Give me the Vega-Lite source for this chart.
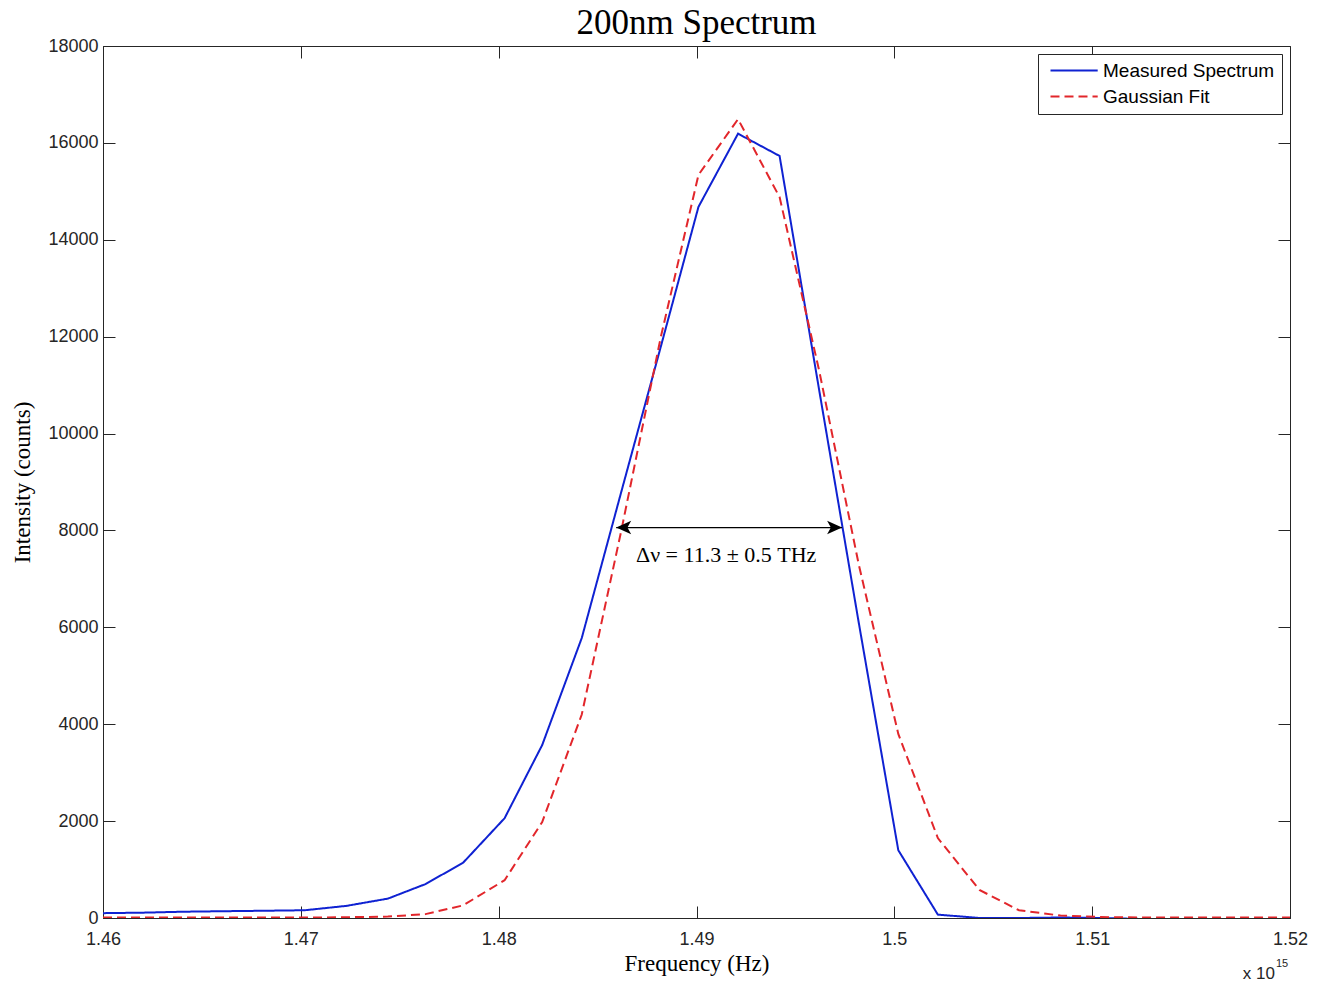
{
  "$schema": "https://vega.github.io/schema/vega-lite/v6.json",
  "width": 1187,
  "height": 872,
  "autosize": {"type": "none"},
  "padding": {"left": 103, "top": 46, "right": 36, "bottom": 65},
  "background": "white",
  "title": {
    "text": "200nm Spectrum",
    "font": "Liberation Serif",
    "fontSize": 35,
    "fontWeight": "normal",
    "color": "#000000",
    "anchor": "middle",
    "offset": -4
  },
  "config": {
    "view": {"stroke": "#262626", "strokeWidth": 1},
    "axis": {
      "labelFont": "Liberation Sans",
      "labelFontSize": 18,
      "labelColor": "#262626",
      "titleFont": "Liberation Serif",
      "titleFontSize": 23,
      "titleFontWeight": "normal",
      "titleColor": "#000000",
      "domainColor": "#262626",
      "tickColor": "#262626",
      "grid": false,
      "tickSize": -12
    }
  },
  "datasets": {
    "spectrum": [
      {"f": 1.4600, "series": "Measured Spectrum", "v": 100},
      {"f": 1.4620, "series": "Measured Spectrum", "v": 110},
      {"f": 1.4641, "series": "Measured Spectrum", "v": 130},
      {"f": 1.4661, "series": "Measured Spectrum", "v": 140},
      {"f": 1.4682, "series": "Measured Spectrum", "v": 150},
      {"f": 1.4702, "series": "Measured Spectrum", "v": 160},
      {"f": 1.4723, "series": "Measured Spectrum", "v": 250},
      {"f": 1.4744, "series": "Measured Spectrum", "v": 400},
      {"f": 1.4763, "series": "Measured Spectrum", "v": 700},
      {"f": 1.4782, "series": "Measured Spectrum", "v": 1140},
      {"f": 1.4803, "series": "Measured Spectrum", "v": 2060},
      {"f": 1.4822, "series": "Measured Spectrum", "v": 3570},
      {"f": 1.4842, "series": "Measured Spectrum", "v": 5780},
      {"f": 1.4862, "series": "Measured Spectrum", "v": 8800},
      {"f": 1.4882, "series": "Measured Spectrum", "v": 11800},
      {"f": 1.4901, "series": "Measured Spectrum", "v": 14680},
      {"f": 1.4921, "series": "Measured Spectrum", "v": 16190},
      {"f": 1.4942, "series": "Measured Spectrum", "v": 15730},
      {"f": 1.4962, "series": "Measured Spectrum", "v": 10900},
      {"f": 1.4982, "series": "Measured Spectrum", "v": 6100},
      {"f": 1.5002, "series": "Measured Spectrum", "v": 1400},
      {"f": 1.5022, "series": "Measured Spectrum", "v": 70},
      {"f": 1.5043, "series": "Measured Spectrum", "v": 0},
      {"f": 1.5063, "series": "Measured Spectrum", "v": 0},
      {"f": 1.5084, "series": "Measured Spectrum", "v": 10},
      {"f": 1.5104, "series": "Measured Spectrum", "v": 0},
      {"f": 1.5125, "series": "Measured Spectrum", "v": -20},
      {"f": 1.5145, "series": "Measured Spectrum", "v": -60},
      {"f": 1.5166, "series": "Measured Spectrum", "v": -70},
      {"f": 1.5186, "series": "Measured Spectrum", "v": -50},
      {"f": 1.5200, "series": "Measured Spectrum", "v": -40},
      {"f": 1.4600, "series": "Gaussian Fit", "v": 10},
      {"f": 1.4620, "series": "Gaussian Fit", "v": 10},
      {"f": 1.4641, "series": "Gaussian Fit", "v": 10},
      {"f": 1.4661, "series": "Gaussian Fit", "v": 10},
      {"f": 1.4682, "series": "Gaussian Fit", "v": 10},
      {"f": 1.4702, "series": "Gaussian Fit", "v": 10},
      {"f": 1.4723, "series": "Gaussian Fit", "v": 15},
      {"f": 1.4744, "series": "Gaussian Fit", "v": 30},
      {"f": 1.4763, "series": "Gaussian Fit", "v": 80},
      {"f": 1.4782, "series": "Gaussian Fit", "v": 260},
      {"f": 1.4803, "series": "Gaussian Fit", "v": 780},
      {"f": 1.4822, "series": "Gaussian Fit", "v": 1980},
      {"f": 1.4842, "series": "Gaussian Fit", "v": 4200},
      {"f": 1.4862, "series": "Gaussian Fit", "v": 8000},
      {"f": 1.4882, "series": "Gaussian Fit", "v": 12000},
      {"f": 1.4901, "series": "Gaussian Fit", "v": 15340},
      {"f": 1.4921, "series": "Gaussian Fit", "v": 16490},
      {"f": 1.4942, "series": "Gaussian Fit", "v": 14880},
      {"f": 1.4962, "series": "Gaussian Fit", "v": 11300},
      {"f": 1.4982, "series": "Gaussian Fit", "v": 7300},
      {"f": 1.5002, "series": "Gaussian Fit", "v": 3800},
      {"f": 1.5022, "series": "Gaussian Fit", "v": 1650},
      {"f": 1.5043, "series": "Gaussian Fit", "v": 580},
      {"f": 1.5063, "series": "Gaussian Fit", "v": 160},
      {"f": 1.5084, "series": "Gaussian Fit", "v": 50},
      {"f": 1.5104, "series": "Gaussian Fit", "v": 20},
      {"f": 1.5125, "series": "Gaussian Fit", "v": 10},
      {"f": 1.5145, "series": "Gaussian Fit", "v": 10},
      {"f": 1.5166, "series": "Gaussian Fit", "v": 10},
      {"f": 1.5186, "series": "Gaussian Fit", "v": 10},
      {"f": 1.5200, "series": "Gaussian Fit", "v": 10}
    ],
    "arrow": [
      {"x1": 1.48594, "x2": 1.49736, "y": 8060}
    ],
    "label": [
      {"x": 1.4915, "y": 7500, "text": "Δν = 11.3 ± 0.5 THz"}
    ],
    "expo": [
      {"x": 1.52, "y": -1150, "base": "x 10", "sup": "15"}
    ]
  },
  "resolve": {"axis": {"x": "independent", "y": "independent"}},
  "layer": [
    {
      "data": {"name": "spectrum"},
      "mark": {"type": "line", "strokeWidth": 2, "clip": true},
      "encoding": {
        "x": {
          "field": "f", "type": "quantitative",
          "scale": {"domain": [1.46, 1.52], "nice": false, "zero": false},
          "axis": {
            "orient": "bottom",
            "title": "Frequency (Hz)",
            "values": [1.46, 1.47, 1.48, 1.49, 1.5, 1.51, 1.52],
            "format": "~g",
            "labelPadding": 24,
            "titlePadding": 4,
            "labelFlush": false
          }
        },
        "y": {
          "field": "v", "type": "quantitative",
          "scale": {"domain": [0, 18000], "nice": false},
          "axis": {
            "orient": "left",
            "title": "Intensity (counts)",
            "values": [0, 2000, 4000, 6000, 8000, 10000, 12000, 14000, 16000, 18000],
            "format": "d",
            "labelPadding": 17,
            "titlePadding": 13,
            "labelFlush": false
          }
        },
        "color": {
          "field": "series", "type": "nominal",
          "scale": {"domain": ["Measured Spectrum", "Gaussian Fit"], "range": ["#0f22d2", "#e2262b"]},
          "legend": {
            "title": null,
            "orient": "top-right",
            "offset": 8,
            "strokeColor": "#262626",
            "fillColor": "white",
            "padding": 7,
            "rowPadding": 6,
            "labelFont": "Liberation Sans",
            "labelFontSize": 19,
            "labelColor": "#000000",
            "labelLimit": 400,
            "labelOffset": 39,
            "symbolType": "M-0.5,0L5.4,0",
            "symbolSize": 256,
            "symbolStrokeWidth": 2,
            "cornerRadius": 0
          }
        },
        "strokeDash": {
          "field": "series", "type": "nominal",
          "scale": {"domain": ["Measured Spectrum", "Gaussian Fit"], "range": [[1, 0], [9, 5]]},
          "legend": null
        }
      }
    },
    {
      "data": {"name": "arrow"},
      "mark": {"type": "rule", "color": "#000000", "strokeWidth": 1.2},
      "encoding": {
        "x": {
          "field": "x1", "type": "quantitative",
          "scale": {"domain": [1.46, 1.52], "nice": false, "zero": false},
          "axis": {"orient": "top", "labels": false, "title": null, "domain": false,
                   "values": [1.46, 1.47, 1.48, 1.49, 1.5, 1.51, 1.52]}
        },
        "x2": {"field": "x2"},
        "y": {
          "field": "y", "type": "quantitative",
          "scale": {"domain": [0, 18000], "nice": false},
          "axis": {"orient": "right", "labels": false, "title": null, "domain": false,
                   "values": [0, 2000, 4000, 6000, 8000, 10000, 12000, 14000, 16000, 18000]}
        }
      }
    },
    {
      "data": {"name": "arrow"},
      "mark": {"type": "point", "filled": true, "color": "#000000", "opacity": 1, "size": 225,
               "shape": "M0,0L2,-0.9L1.5,0L2,0.9Z", "strokeWidth": 0},
      "encoding": {
        "x": {"field": "x1", "type": "quantitative", "axis": null},
        "y": {"field": "y", "type": "quantitative", "axis": null}
      }
    },
    {
      "data": {"name": "arrow"},
      "mark": {"type": "point", "filled": true, "color": "#000000", "opacity": 1, "size": 225,
               "shape": "M0,0L-2,-0.9L-1.5,0L-2,0.9Z", "strokeWidth": 0},
      "encoding": {
        "x": {"field": "x2", "type": "quantitative", "axis": null},
        "y": {"field": "y", "type": "quantitative", "axis": null}
      }
    },
    {
      "data": {"name": "label"},
      "mark": {"type": "text", "font": "Liberation Serif", "fontSize": 22, "color": "#000000",
               "align": "center", "baseline": "middle"},
      "encoding": {
        "x": {"field": "x", "type": "quantitative", "axis": null},
        "y": {"field": "y", "type": "quantitative", "axis": null},
        "text": {"field": "text"}
      }
    },
    {
      "data": {"name": "expo"},
      "mark": {"type": "text", "font": "Liberation Sans", "fontSize": 17, "color": "#262626",
               "align": "right", "baseline": "middle", "dx": -15},
      "encoding": {
        "x": {"field": "x", "type": "quantitative", "axis": null},
        "y": {"field": "y", "type": "quantitative", "axis": null},
        "text": {"field": "base"}
      }
    },
    {
      "data": {"name": "expo"},
      "mark": {"type": "text", "font": "Liberation Sans", "fontSize": 11, "color": "#262626",
               "align": "left", "baseline": "middle", "dx": -14, "dy": -10},
      "encoding": {
        "x": {"field": "x", "type": "quantitative", "axis": null},
        "y": {"field": "y", "type": "quantitative", "axis": null},
        "text": {"field": "sup"}
      }
    }
  ]
}
